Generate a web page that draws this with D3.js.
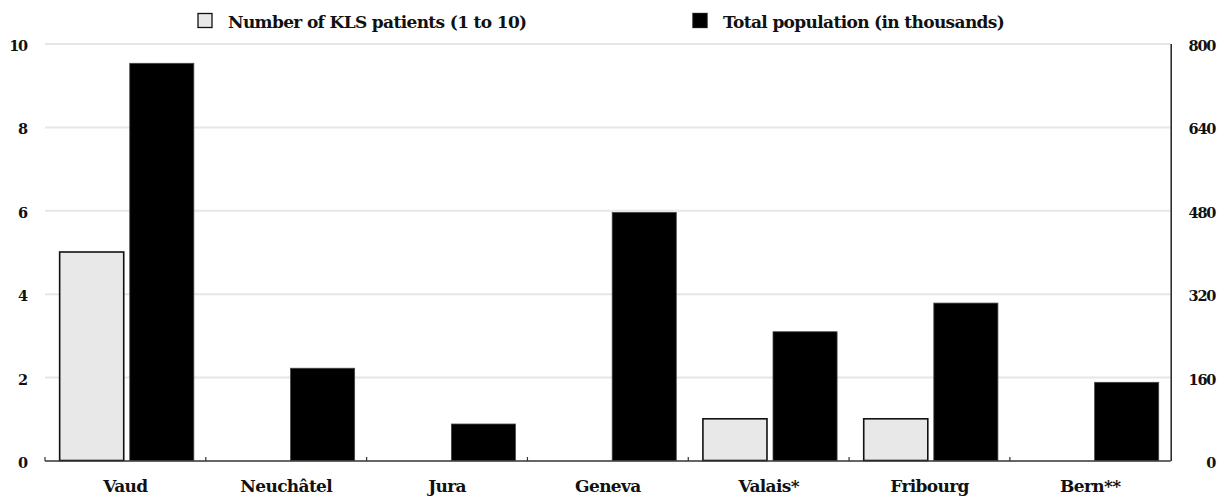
<!DOCTYPE html>
<html>
<head>
<meta charset="utf-8">
<script src="https://cdn.jsdelivr.net/npm/d3@7"></script>
<style>
  body { margin: 0; background: #fff; }
</style>
</head>
<body>
<svg></svg>
<script>
 let cantons = ['Vaud', 'Neuchâtel', 'Jura', 'Geneva', 'Valais*', 'Fribourg', 'Bern**'];
 let klsPatients = [5, 0, 0, 0, 1, 1, 0];          // left axis
 let population = [762, 177, 70, 476, 247, 302, 150]; // right axis, thousands
 let leftTicks = [0, 2, 4, 6, 8, 10];
 let rightTicks = [0, 160, 320, 480, 640, 800];
 let seriesNames = ['Number of KLS patients (1 to 10)', 'Total population (in thousands)'];

 let width = 1226;
 let height = 497;
 let plotLeft = 45;
 let plotRight = 1170.7;
 let plotTop = 43.5;
 let plotBottom = 460.5;
 let serif = "'DejaVu Serif', serif";

 let svg = d3.select('svg')
   .attr('width', width)
   .attr('height', height);

 let x0 = d3.scaleBand()
   .domain(cantons)
   .range([plotLeft, plotRight])
   .padding(0);

 let x1 = d3.scaleBand()
   .domain(['kls', 'pop'])
   .range([0, x0.bandwidth()])
   .paddingInner(0.086)
   .paddingOuter(0.19)
   .align(0.55);

 let yLeft = d3.scaleLinear().domain([0, 10]).range([plotBottom, plotTop]);
 let yRight = d3.scaleLinear().domain([0, 800]).range([plotBottom, plotTop]);

 let styleText = (sel, size, spacing) => sel
   .style('font-family', serif)
   .style('font-weight', 'bold')
   .style('font-size', size)
   .style('letter-spacing', spacing || '0px')
   .attr('fill', '#111');

 // grid
 svg.append('g')
   .attr('transform', `translate(${plotLeft}, 0)`)
   .call(d3.axisLeft(yLeft).tickValues(leftTicks.filter(d => d > 0)).tickSize(-(plotRight - plotLeft)).tickFormat(''))
   .call(g => g.select('.domain').remove())
   .call(g => g.selectAll('line').attr('stroke', '#e6e6e6').attr('stroke-width', 2));

 let rows = cantons.map((c, i) => ({ canton: c, kls: klsPatients[i], pop: population[i] }));

 // KLS bars
 svg.append('g').selectAll('rect')
   .data(rows.filter(d => d.kls > 0))
   .enter()
   .append('rect')
   .attr('x', d => x0(d.canton) + x1('kls'))
   .attr('width', x1.bandwidth())
   .attr('y', d => yLeft(d.kls))
   .attr('height', d => plotBottom - yLeft(d.kls))
   .attr('fill', '#e8e8e8')
   .attr('stroke', '#111')
   .attr('stroke-width', 1.6);

 // population bars
 svg.append('g').selectAll('rect')
   .data(rows)
   .enter()
   .append('rect')
   .attr('x', d => x0(d.canton) + x1('pop'))
   .attr('width', x1.bandwidth())
   .attr('y', d => yRight(d.pop))
   .attr('height', d => plotBottom - yRight(d.pop))
   .attr('fill', '#000')
   .attr('stroke', '#444')
   .attr('stroke-width', 0.8);

 // bottom axis line + boundary ticks
 svg.append('line')
   .attr('x1', plotLeft).attr('x2', plotRight)
   .attr('y1', plotBottom + 0.5).attr('y2', plotBottom + 0.5)
   .attr('stroke', '#333').attr('stroke-width', 1.5);

 svg.append('g').selectAll('line')
   .data(cantons)
   .enter()
   .append('line')
   .attr('x1', d => x0(d)).attr('x2', d => x0(d))
   .attr('y1', plotBottom + 0.5).attr('y2', plotBottom - 3.5)
   .attr('stroke', '#333').attr('stroke-width', 1.2);

 // category labels
 svg.append('g')
   .attr('transform', `translate(0, ${plotBottom})`)
   .call(d3.axisBottom(x0).tickSize(0).tickPadding(0))
   .call(g => g.select('.domain').remove())
   .call(g => g.selectAll('text')
     .attr('y', 31).attr('dy', null)
     .call(styleText, '17px', '-0.65px'));

 // left axis labels
 svg.append('g')
   .attr('transform', `translate(27, 0)`)
   .call(d3.axisLeft(yLeft).tickValues(leftTicks).tickSize(0).tickPadding(0).tickFormat(d3.format('d')))
   .call(g => g.select('.domain').remove())
   .call(g => g.selectAll('text')
     .attr('x', 0).attr('dy', '7px')
     .call(styleText, '14.5px', '-1.2px'));

 // right axis
 svg.append('g')
   .attr('transform', `translate(${plotRight}, 0)`)
   .call(d3.axisRight(yRight).tickValues(rightTicks).tickSize(0).tickSizeOuter(0).tickPadding(0).tickFormat(d3.format('d')))
   .call(g => g.select('.domain').attr('stroke', '#222').attr('stroke-width', 1.5))
   .call(g => g.selectAll('text')
     .attr('x', 44.5).attr('dy', '7px')
     .attr('text-anchor', 'end')
     .call(styleText, '14.5px', '-1.2px'));

 // legend
 let legend = svg.append('g');
 let legendX = [198, 693];
 let legendFill = ['#e8e8e8', '#000'];
 seriesNames.forEach((name, i) => {
   legend.append('rect')
     .attr('x', legendX[i]).attr('y', 13.5)
     .attr('width', 14).attr('height', 14)
     .attr('fill', legendFill[i])
     .attr('stroke', '#111').attr('stroke-width', 1.3);
   legend.append('text')
     .attr('x', legendX[i] + 30).attr('y', 27.5)
     .call(styleText, '17px', '-0.65px')
     .text(name);
 });
</script>
</body>
</html>
